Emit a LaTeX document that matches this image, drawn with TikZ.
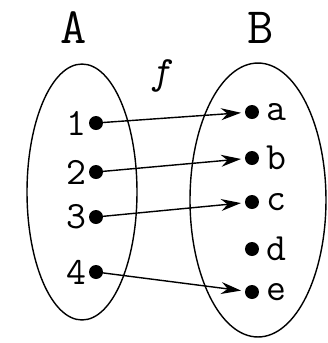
\documentclass[tikz,border=0pt]{standalone}
\usetikzlibrary{arrows.meta, positioning, shapes.geometric}

\begin{document}
\begin{tikzpicture}[x=0.02cm, y=-0.02cm,
    set/.style={ellipse, draw, line width=0.8pt, inner sep=0pt},
    pt/.style={circle, fill, inner sep=0pt, minimum size=0.28cm},
    num/.style={inner sep=1pt, font=\ttfamily\fontsize{22}{24}\selectfont},
    title/.style={inner sep=0pt, font=\ttfamily\fontsize{29}{31}\selectfont},
    arr/.style={-{Stealth[length=4mm, width=2.4mm]}, line width=0.8pt,
                shorten >=0.22cm},
]
\useasboundingbox (0,0) rectangle (328,343);

\node[set, minimum width=2.2cm, minimum height=5.12cm] (setA) at (82,192) {};
\node[set, minimum width=2.72cm, minimum height=5.48cm] (setB) at (258,200) {};

\node[title] (nameA) at (74,28) {A};
\node[title] (nameB) at (261,28) {B};
\node[num, font=\ttfamily\itshape\fontsize{22}{24}\selectfont] (fname) at (161,76) {f};

% elements of A
\node[pt] (p1) at (96,123) {};
\node[pt] (p2) at (96,172) {};
\node[pt] (p3) at (96,217) {};
\node[pt] (p4) at (96,272) {};
\node[num, left=0pt of p1] (l1) {1};
\node[num, left=0pt of p2] (l2) {2};
\node[num, left=0pt of p3] (l3) {3};
\node[num, left=0pt of p4] (l4) {4};

% elements of B
\node[pt] (qa) at (252,112) {};
\node[pt] (qb) at (252,158) {};
\node[pt] (qc) at (252,202) {};
\node[pt] (qd) at (252,249) {};
\node[pt] (qe) at (252,292) {};
\node[num, right=3pt of qa] (la) {a};
\node[num, right=3pt of qb] (lb) {b};
\node[num, right=3pt of qc] (lc) {c};
\node[num, right=3pt of qd] (ld) {d};
\node[num, right=3pt of qe] (le) {e};

\draw[arr] (p1.center) -- (qa.center);
\draw[arr] (p2.center) -- (qb.center);
\draw[arr] (p3.center) -- (qc.center);
\draw[arr] (p4.center) -- (qe.center);

\end{tikzpicture}
\end{document}
